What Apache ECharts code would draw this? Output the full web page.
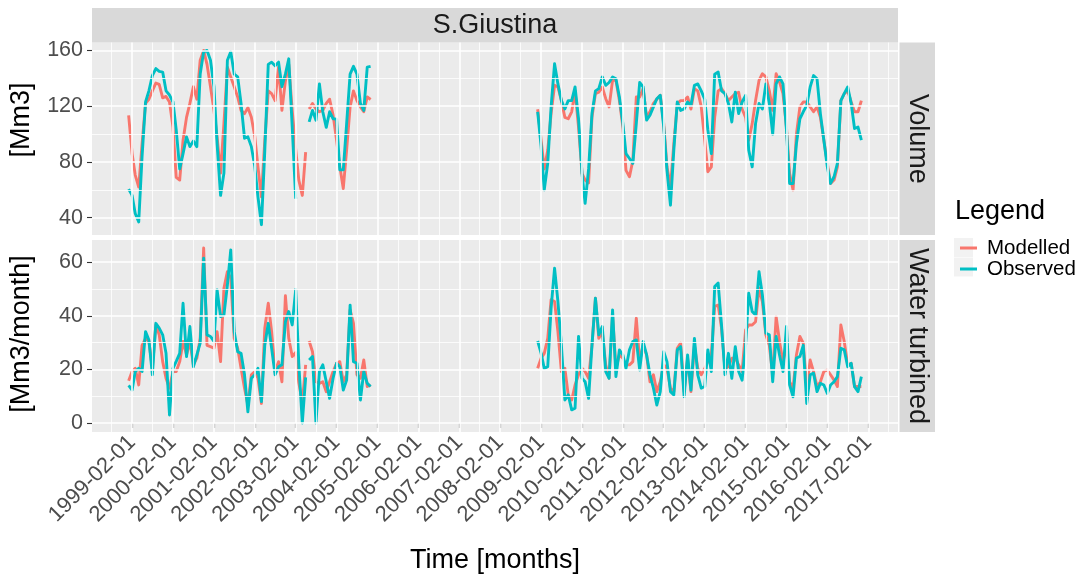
<!DOCTYPE html>
<html><head><meta charset="utf-8">
<script src="https://cdn.jsdelivr.net/npm/echarts@6/dist/echarts.min.js"></script>
<style>html,body{margin:0;padding:0;background:#fff}#c{width:1081px;height:579px}</style>
</head><body><div id="c"></div>
<script>
// ---- data (monthly values; each segment starts at the month given) ----
const segmentStarts = ['1999-01', '2003-06', '2009-01'];

const volumeModelled1 = [113.5,86,70.6,62,93,122,125,131,136.6,135.7,126,127,123,105,69,67,95.6,112,122,134,125,153,160,150,134,117,98,72,107.5,148,141,134,126.6,117,114.7,119,112,98,76.5,55,95.6,131,129,124,148,117,138,150,117,89,67,56,87];
const volumeObserved1 = [60.5,56,43,37,84,123,131,142,147,145,144.5,131,128,123,103,75,86,98,91,95,91,143,159,160,153,134,93,56,72,153,159,143,141,122,97,98,91,76.5,55,35,88,150,151.6,149,151.6,134,143,154,105,53.6,null,null,70];
const volumeModelled2 = [118,122,118,116,117,122,125,113.6,95.7,76.7,61,88.6,119.5,131,124,119.5,116,126.7,124.8];
const volumeObserved2 = [108.8,117,110,136,116,104.8,116,111,110.7,74.3,74.3,107.6,143,148.6,143,122,117,148,148.6];
const volumeModelled3 = [117.8,95.6,75,88.5,114.7,135,133.8,124,112,111,116,131,105,71.8,67,65,112,129,130,133.8,125.4,119.5,138.5,138.5,124,105,74,69.4,81,126.6,126.6,132.6,112,116,122,125,127.8,107.5,76.5,62,93,122,124,124,126.6,118,132.6,131,119.5,95.6,73,76.5,112,131,132.6,129,124,126.6,129,130,118,112,95.6,107.5,124,138.5,143.3,141,131,117,143.3,137.3,129,105,71.8,60,100,119.5,123,123,119.5,116,119.5,112,95.6,79,64.6,67,76.5,124,129,131,123,116,116,124];
const volumeObserved3 = [116,91,60,79,119.5,150.5,136,124,118,124,124,133.8,111,71.8,50.3,75,114.7,131,132.6,141,135,137,141,139.7,126.6,107.5,86,82.5,79,107.5,137,133.8,110,113.5,119.5,125.4,127.8,105,74,49,88.5,123,117,118,123,120.6,135,136,131,125,103,86,143,144.5,131,129,122,108.7,130,114.7,123,127.8,88.5,76.5,107.5,122,118,136,122,100,136,141,136,103,64.6,64.6,93,111,116,120.6,133.8,142,139.7,114.7,95.6,76.5,64.6,69.4,79,124,129,133.8,122,104,105,95.6];

const waterModelled1 = [15.8,19.2,20.4,14.2,29,31.6,30.4,20.4,36.6,32.9,22.9,16.7,13,19.2,19.2,22.9,30.4,25.4,30.4,21.7,24.2,31.6,65.3,29,28.5,27.9,34.1,22.9,50.3,56.5,54,31.6,27.9,20.4,13,6.7,18,19.2,16.7,7.3,35.4,44.7,34.1,19.2,22.9,15.4,47.5,31.6,24.8,26.3,15,7.5,21.7];
const waterObserved1 = [14,12.3,19.2,20.4,19.2,34.1,31,18,37.2,35.4,32.9,26,3,20.4,23,26,44.7,24.8,36,21,25.4,29.8,61.5,32.9,32.3,30.4,49.7,39.7,40.3,51.5,64.6,34.1,26.6,26,18,4.2,16.7,18,20.4,8,29,37.2,27.9,18,21,21.7,37.8,41.6,36.6,49.8,22,0,17];
const waterModelled2 = [30.6,26.6,15.4,14.8,15.4,11.7,15.4,19.2,22.3,22.9,15.4,18,42.2,37.2,18,16.7,23.5,13.6,14.2];
const waterObserved2 = [23.5,24.8,0,19.2,21.7,15.4,9.2,16.7,22.3,21,12.3,16,44,22.9,22.3,8.6,19.2,14.8,13.6];
const waterModelled3 = [20.4,24.2,26,31.6,46,45.3,34.1,19.2,20.4,10.5,8.6,14.2,18,20.4,19.2,16.7,29,46.6,31.6,34.1,21.7,16.7,40.3,20.4,25.4,24.2,21.7,21.7,22.9,39.1,22.9,29,25.4,15.4,18,11.7,15.4,21.7,20.4,13,11.7,27.9,29.8,11.7,24.2,11.7,29,20.4,18,20.4,22.9,25.4,43.5,44,35.4,20.4,21,24.2,24.2,21.7,19.2,34.7,36.6,36.6,37.8,50.3,45.3,32.9,29,18,39.7,30.4,22.9,29,15.4,13,25.4,32.3,29.8,13,23.5,19.2,13.6,15.4,19.2,19.8,18,16,13.6,36.6,30.4,21.7,22.3,13.6,13.6,13.6];
const waterObserved3 = [30.6,26,20.4,21,42.8,57.8,45.3,29,8.6,10.5,4.9,5.5,32.3,16.7,15.4,9.2,29,46.6,32.9,36,19.2,16.7,42.2,17.3,27.3,25.4,20.4,27.3,30.4,31,19.8,30.4,25.4,18,13,6.7,11.7,26.6,22.9,11.7,10.5,27.3,28.5,9.8,25.4,12.3,31.6,18,13,13.6,27.3,19.2,50.9,52.2,36.6,18,26,16.7,28.5,19.2,16,29,48.4,41.6,40.3,56.5,47.8,33.5,32.9,15.4,32.3,25.4,19.2,36,14.2,9.8,24.2,24.8,29,7.3,18,18.6,11.7,14.8,14.2,11,14.2,15.4,17.3,27.9,27.3,21,22.3,13.6,11.7,17.3];

const xTickLabels = ['1999-02-01','2000-02-01','2001-02-01','2002-02-01','2003-02-01','2004-02-01','2005-02-01','2006-02-01','2007-02-01','2008-02-01','2009-02-01','2010-02-01','2011-02-01','2012-02-01','2013-02-01','2014-02-01','2015-02-01','2016-02-01','2017-02-01'];
const volumeTicks = [40, 80, 120, 160];
const volumeMinor = [60, 100, 140];
const waterTicks = [0, 20, 40, 60];
const waterMinor = [10, 30, 50];
const seriesNames = ['Modelled', 'Observed'];
const panelNames = ['Volume', 'Water turbined'];

// ---- helpers ----
function monthTs(startStr, i) {
  const p = startStr.split('-').map(Number);
  return Date.UTC(p[0], p[1] - 1 + i, 1);
}
function dateTs(s) {
  const p = s.split('-').map(Number);
  return Date.UTC(p[0], p[1] - 1, p[2]);
}
function build(segs) {
  const out = [];
  segs.forEach((vals, s) => {
    if (s > 0) {
      const prevEnd = out[out.length - 1][0];
      const nextStart = monthTs(segmentStarts[s], 0);
      out.push([(prevEnd + nextStart) / 2, '-']);
    }
    vals.forEach((v, i) => out.push([monthTs(segmentStarts[s], i), v == null ? '-' : v]));
  });
  return out;
}
function pad(n) { return n < 10 ? '0' + n : '' + n; }

const volM = build([volumeModelled1, volumeModelled2, volumeModelled3]);
const volO = build([volumeObserved1, volumeObserved2, volumeObserved3]);
const watM = build([waterModelled1, waterModelled2, waterModelled3]);
const watO = build([waterObserved1, waterObserved2, waterObserved3]);

const firstT = monthTs(segmentStarts[0], 0);
const lastT = monthTs(segmentStarts[2], volumeModelled3.length - 1);
const xMin = firstT - 0.05 * (lastT - firstT);
const xMax = lastT + 0.05 * (lastT - firstT);

const majorX = xTickLabels.map(dateTs);
const labelOf = {};
majorX.forEach((t, i) => { labelOf[t] = xTickLabels[i]; });
const minorX = [];
for (let i = 0; i < majorX.length - 1; i++) minorX.push((majorX[i] + majorX[i + 1]) / 2);
minorX.unshift(majorX[0] - (majorX[1] - majorX[0]) / 2);
minorX.push(majorX[majorX.length - 1] + (majorX[1] - majorX[0]) / 2);

const FONT = '"Liberation Sans", Arial, Helvetica, sans-serif';
const RED = '#F8766D', CYAN = '#00BFC4';

const grids = [
  { left: 92, width: 806, top: 42.5, height: 192.5 },
  { left: 92, width: 806, top: 240, height: 192 }
];
const yRanges = [[27.6, 165.7], [-3.36, 68.3]];
const yTicks = [volumeTicks, waterTicks];
const yMinor = [volumeMinor, waterMinor];

function gridLines(g) {
  const d = [];
  minorX.filter(t => t > xMin && t < xMax).forEach(t => d.push({ xAxis: t, lineStyle: { width: 0.8, color: '#fff', type: 'solid' } }));
  majorX.forEach(t => d.push({ xAxis: t, lineStyle: { width: 1.6, color: '#fff', type: 'solid' } }));
  yMinor[g].forEach(v => d.push({ yAxis: v, lineStyle: { width: 0.8, color: '#fff', type: 'solid' } }));
  yTicks[g].forEach(v => d.push({ yAxis: v, lineStyle: { width: 1.6, color: '#fff', type: 'solid' } }));
  return d;
}

const chart = echarts.init(document.getElementById('c'), null, { renderer: 'canvas' });

const xAxes = [0, 1].map(g => ({
  type: 'value', gridIndex: g, min: xMin, max: xMax, scale: true,
  axisLine: { show: false },
  splitLine: { show: false },
  axisTick: { show: g === 1, length: 5, lineStyle: { color: '#333333', width: 1.1 }, customValues: majorX },
  axisLabel: {
    show: g === 1, customValues: majorX, rotate: 45, margin: 7,
    fontSize: 22, fontFamily: FONT, color: '#4d4d4d',
    formatter: v => labelOf[v] !== undefined ? labelOf[v] : (function () { const d = new Date(v); return d.getUTCFullYear() + '-' + pad(d.getUTCMonth() + 1) + '-' + pad(d.getUTCDate()); })()
  }
}));
const yAxes = [0, 1].map(g => ({
  type: 'value', gridIndex: g, min: yRanges[g][0], max: yRanges[g][1],
  axisLine: { show: false },
  splitLine: { show: false },
  axisTick: { show: true, length: 5, lineStyle: { color: '#333333', width: 1.1 }, customValues: yTicks[g] },
  axisLabel: { customValues: yTicks[g], margin: 9, fontSize: 21.5, fontFamily: FONT, color: '#4d4d4d' }
}));

const lineCommon = { type: 'line', showSymbol: false, symbol: 'none', connectNulls: false, animation: false, silent: true, emphasis: { disabled: true } };

const series = [];
[0, 1].forEach(g => {
  series.push({
    type: 'line', name: 'grid' + g, xAxisIndex: g, yAxisIndex: g, data: [], z: 1, silent: true, animation: false,
    markLine: { silent: true, symbol: ['none', 'none'], label: { show: false }, animation: false, data: gridLines(g) }
  });
});
[[volM, volO], [watM, watO]].forEach((pair, g) => {
  series.push(Object.assign({}, lineCommon, { name: seriesNames[0], xAxisIndex: g, yAxisIndex: g, data: pair[0], z: 3, color: RED, lineStyle: { color: RED, width: 2.9, join: 'round' } }));
  series.push(Object.assign({}, lineCommon, { name: seriesNames[1], xAxisIndex: g, yAxisIndex: g, data: pair[1], z: 4, color: CYAN, lineStyle: { color: CYAN, width: 2.9, join: 'round' } }));
});

const txt = (text, x, y, size, color, rot, align) => ({
  type: 'text', x: x, y: y, rotation: rot || 0, silent: true,
  style: { text: text, fontSize: size, fontFamily: FONT, fill: color, align: align || 'center', verticalAlign: 'middle' }
});

const graphic = [
  { type: 'rect', shape: { x: 92, y: 8, width: 806, height: 34.5 }, style: { fill: '#d9d9d9' }, silent: true },
  { type: 'rect', shape: { x: 899.5, y: 42.5, width: 35.5, height: 192.5 }, style: { fill: '#d9d9d9' }, silent: true },
  { type: 'rect', shape: { x: 899.5, y: 240, width: 35.5, height: 192 }, style: { fill: '#d9d9d9' }, silent: true },
  txt('S.Giustina', 495, 25.5, 27, '#1a1a1a'),
  txt(panelNames[0], 917, 138.7, 27, '#1a1a1a', -Math.PI / 2),
  txt(panelNames[1], 917, 336, 27, '#1a1a1a', -Math.PI / 2),
  txt('[Mm3]', 22, 120, 27, '#000', Math.PI / 2),
  txt('[Mm3/month]', 22, 334, 27, '#000', Math.PI / 2),
  txt('Time [months]', 495, 561, 27, '#000'),
  txt('Legend', 955, 212, 27, '#000', 0, 'left'),
  { type: 'rect', shape: { x: 954, y: 238, width: 19, height: 19 }, style: { fill: '#f2f2f2' }, silent: true },
  { type: 'rect', shape: { x: 954, y: 257.5, width: 19, height: 19 }, style: { fill: '#f2f2f2' }, silent: true }
];

chart.setOption({
  animation: false,
  backgroundColor: '#ffffff',
  textStyle: { fontFamily: FONT },
  grid: grids.map(g => Object.assign({ show: true, backgroundColor: '#ebebeb', borderWidth: 0, containLabel: false }, g)),
  xAxis: xAxes,
  yAxis: yAxes,
  legend: {
    data: seriesNames, orient: 'vertical', left: 955, top: 232.5, itemWidth: 17, itemHeight: 3, itemGap: 0,
    icon: 'rect', selectedMode: false,
    textStyle: { fontSize: 20.5, fontFamily: FONT, color: '#000', lineHeight: 19.5, padding: [0, 0, 0, 5] }
  },
  series: series,
  graphic: graphic
});
</script>
</body></html>
